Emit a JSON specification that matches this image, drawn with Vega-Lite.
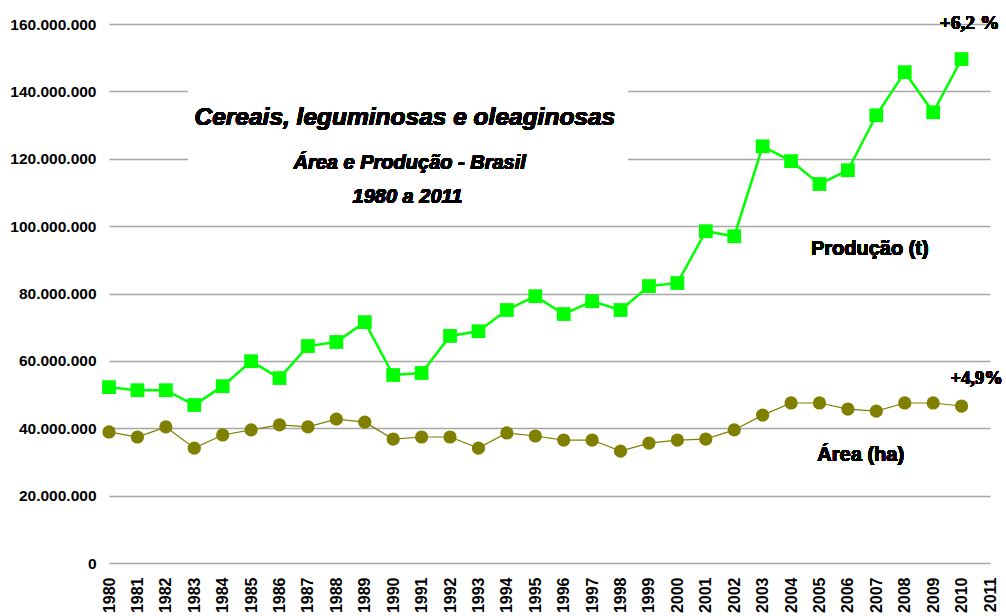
{
  "$schema": "https://vega.github.io/schema/vega-lite/v6.json",
  "width": 881,
  "height": 539,
  "autosize": {"type": "none"},
  "padding": {"left": 109, "top": 24, "right": 16, "bottom": 53},
  "background": "white",
  "config": {
    "view": {"stroke": null},
    "font": "Liberation Sans"
  },
  "datasets": {
    "series": [
      {"ano": 1980, "producao": 52200000, "area": 38900000},
      {"ano": 1981, "producao": 51300000, "area": 37400000},
      {"ano": 1982, "producao": 51300000, "area": 40400000},
      {"ano": 1983, "producao": 46900000, "area": 34100000},
      {"ano": 1984, "producao": 52500000, "area": 38000000},
      {"ano": 1985, "producao": 59900000, "area": 39500000},
      {"ano": 1986, "producao": 54900000, "area": 41000000},
      {"ano": 1987, "producao": 64400000, "area": 40400000},
      {"ano": 1988, "producao": 65600000, "area": 42700000},
      {"ano": 1989, "producao": 71500000, "area": 41800000},
      {"ano": 1990, "producao": 55800000, "area": 36800000},
      {"ano": 1991, "producao": 56400000, "area": 37400000},
      {"ano": 1992, "producao": 67400000, "area": 37400000},
      {"ano": 1993, "producao": 68800000, "area": 34100000},
      {"ano": 1994, "producao": 75100000, "area": 38600000},
      {"ano": 1995, "producao": 79200000, "area": 37700000},
      {"ano": 1996, "producao": 73900000, "area": 36500000},
      {"ano": 1997, "producao": 77700000, "area": 36500000},
      {"ano": 1998, "producao": 75100000, "area": 33200000},
      {"ano": 1999, "producao": 82200000, "area": 35600000},
      {"ano": 2000, "producao": 83100000, "area": 36500000},
      {"ano": 2001, "producao": 98500000, "area": 36800000},
      {"ano": 2002, "producao": 97000000, "area": 39500000},
      {"ano": 2003, "producao": 123700000, "area": 43900000},
      {"ano": 2004, "producao": 119300000, "area": 47500000},
      {"ano": 2005, "producao": 112500000, "area": 47500000},
      {"ano": 2006, "producao": 116600000, "area": 45700000},
      {"ano": 2007, "producao": 132900000, "area": 45100000},
      {"ano": 2008, "producao": 145700000, "area": 47500000},
      {"ano": 2009, "producao": 133800000, "area": 47500000},
      {"ano": 2010, "producao": 149600000, "area": 46600000}
    ]
  },
  "data": {"name": "series"},
  "encoding": {
    "x": {
      "field": "ano",
      "type": "quantitative",
      "scale": {"domain": [1980, 2011], "nice": false, "zero": false},
      "axis": {
        "title": null,
        "values": [1980,1981,1982,1983,1984,1985,1986,1987,1988,1989,1990,1991,1992,1993,1994,1995,1996,1997,1998,1999,2000,2001,2002,2003,2004,2005,2006,2007,2008,2009,2010,2011],
        "format": "d",
        "labelAngle": -90,
        "labelAlign": "right",
        "labelBaseline": "middle",
        "labelFontSize": 16,
        "labelFontWeight": "bold",
        "labelColor": "black",
        "labelPadding": 14,
        "labelOverlap": false,
        "labelFlush": false,
        "ticks": false,
        "domain": false,
        "grid": false
      }
    }
  },
  "layer": [
    {
      "mark": {"type": "rule", "color": "white", "opacity": 0},
      "encoding": {
        "y": {
          "datum": 0,
          "type": "quantitative",
          "scale": {"domain": [0, 160000000], "nice": false},
          "axis": {
            "title": null,
            "values": [0, 20000000, 40000000, 60000000, 80000000, 100000000, 120000000, 140000000, 160000000],
            "labelExpr": "replace(format(datum.value, ','), regexp(',', 'g'), '.')",
            "labelFontSize": 15.5,
            "labelFontWeight": "bold",
            "labelColor": "black",
            "labelPadding": 13,
            "ticks": false,
            "domain": false,
            "grid": true,
            "gridColor": "#a6a6a6",
            "gridWidth": 1.5
          }
        }
      }
    },
    {
      "mark": {"type": "rect", "color": "white"},
      "encoding": {
        "x": {"datum": 1982.78, "type": "quantitative"},
        "x2": {"datum": 1998.26},
        "y": {"datum": 105000000, "type": "quantitative"},
        "y2": {"datum": 155000000}
      }
    },
    {
      "mark": {"type": "line", "color": "#808000", "strokeWidth": 1.2},
      "encoding": {"y": {"field": "area", "type": "quantitative"}}
    },
    {
      "mark": {"type": "point", "shape": "circle", "filled": true, "color": "#808000", "opacity": 1, "size": 175},
      "encoding": {"y": {"field": "area", "type": "quantitative"}}
    },
    {
      "mark": {"type": "line", "color": "#00ff00", "strokeWidth": 2.5},
      "encoding": {"y": {"field": "producao", "type": "quantitative"}}
    },
    {
      "mark": {"type": "point", "shape": "square", "filled": true, "color": "#00ff00", "opacity": 1, "size": 190},
      "encoding": {"y": {"field": "producao", "type": "quantitative"}}
    },
    {
      "mark": {"type": "text", "text": "Cereais, leguminosas e oleaginosas", "fontSize": 24.5, "fontWeight": "bold", "fontStyle": "italic", "align": "center", "baseline": "middle", "color": "black"},
      "encoding": {"x": {"datum": 1990.41, "type": "quantitative"}, "y": {"datum": 132000000, "type": "quantitative"}}
    },
    {
      "mark": {"type": "text", "text": "Área e Produção - Brasil", "fontSize": 20, "fontWeight": "bold", "fontStyle": "italic", "align": "center", "baseline": "middle", "color": "black"},
      "encoding": {"x": {"datum": 1990.58, "type": "quantitative"}, "y": {"datum": 118700000, "type": "quantitative"}}
    },
    {
      "mark": {"type": "text", "text": "1980 a 2011", "fontSize": 20, "fontWeight": "bold", "fontStyle": "italic", "align": "center", "baseline": "middle", "color": "black"},
      "encoding": {"x": {"datum": 1990.5, "type": "quantitative"}, "y": {"datum": 108600000, "type": "quantitative"}}
    },
    {
      "mark": {"type": "text", "text": "Produção (t)", "fontSize": 20, "fontWeight": "bold", "align": "center", "baseline": "middle", "color": "black"},
      "encoding": {"x": {"datum": 2006.77, "type": "quantitative"}, "y": {"datum": 93200000, "type": "quantitative"}}
    },
    {
      "mark": {"type": "text", "text": "Área (ha)", "fontSize": 20, "fontWeight": "bold", "align": "center", "baseline": "middle", "color": "black"},
      "encoding": {"x": {"datum": 2006.45, "type": "quantitative"}, "y": {"datum": 32000000, "type": "quantitative"}}
    },
    {
      "mark": {"type": "text", "text": "+6,2 %", "font": "Liberation Serif", "fontSize": 19.5, "fontWeight": "bold", "align": "center", "baseline": "middle", "color": "black"},
      "encoding": {"x": {"datum": 2010.28, "type": "quantitative"}, "y": {"datum": 160200000, "type": "quantitative"}}
    },
    {
      "mark": {"type": "text", "text": "+4,9%", "font": "Liberation Serif", "fontSize": 18.5, "fontWeight": "bold", "align": "center", "baseline": "middle", "color": "black"},
      "encoding": {"x": {"datum": 2010.53, "type": "quantitative"}, "y": {"datum": 54900000, "type": "quantitative"}}
    }
  ]
}
